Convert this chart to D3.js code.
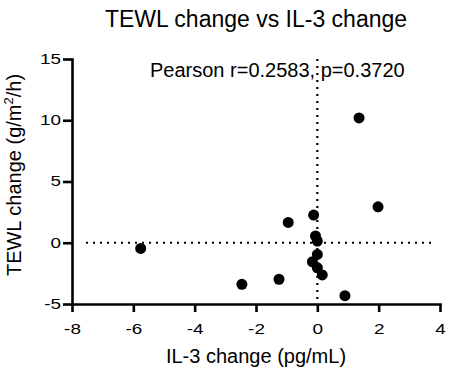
<!DOCTYPE html>
<html>
<head>
<meta charset="utf-8">
<script src="https://cdn.jsdelivr.net/npm/d3@7"></script>
<style>
  body { margin: 0; background: #fff; }
  text { font-family: "Liberation Sans", Arial, sans-serif; fill: #000; }
</style>
</head>
<body>
<svg id="chart"></svg>
<script>
// values
var il3Change  = [1.36, 1.98, -0.12, -0.95, -5.76, -0.06, 0.0, 0.0, -0.16, 0.0, 0.16, -1.25, -2.46, 0.9];
var tewlChange = [10.19, 2.93, 2.26, 1.66, -0.46, 0.55, 0.14, -0.95, -1.55, -2.04, -2.63, -2.98, -3.39, -4.32];
var xTicks = [-8, -6, -4, -2, 0, 2, 4];
var yTicks = [-5, 0, 5, 10, 15];

var points = il3Change.map((d, i) => ({x: d, y: tewlChange[i]}));

const W = 449, H = 369;
const svg = d3.select('#chart').attr('width', W).attr('height', H);

const xScale = d3.scaleLinear().domain([-8, 4]).range([72, 440]);
const yScale = d3.scaleLinear().domain([-5, 15]).range([304, 59]);

const tickStretch = 1.35;
const plainNum = d => String(d);   // hyphen, not unicode minus

// axes
const xAxis = d3.axisBottom(xScale).tickValues(xTicks).tickFormat(plainNum)
  .tickSize(8).tickSizeOuter(0).tickPadding(12);
const yAxis = d3.axisLeft(yScale).tickValues(yTicks).tickFormat(plainNum)
  .tickSize(9).tickSizeOuter(0);

const xg = svg.append('g').attr('transform', `translate(0, ${yScale(-5)})`).call(xAxis);
const yg = svg.append('g').attr('transform', `translate(${xScale(-8)}, 0)`).call(yAxis);

[xg, yg].forEach(g => {
  g.selectAll('path, line').attr('stroke', '#000').attr('stroke-width', 2.6);
  g.select('.domain').attr('stroke-linecap', 'square');
  g.selectAll('text').attr('font-size', '14px').attr('fill', '#000')
    .attr('font-family', '"Liberation Sans", Arial, sans-serif')
    .attr('transform', `scale(${tickStretch},1)`);
});
yg.selectAll('text').attr('x', -11 / tickStretch);

// dotted zero lines
svg.append('line')
  .attr('x1', xScale(-8) + 14).attr('x2', xScale(4) - 4)
  .attr('y1', yScale(0)).attr('y2', yScale(0))
  .attr('stroke', '#000').attr('stroke-width', 2.2).attr('stroke-dasharray', '2,5');
svg.append('line')
  .attr('x1', xScale(0)).attr('x2', xScale(0))
  .attr('y1', yScale(15)).attr('y2', yScale(-5))
  .attr('stroke', '#000').attr('stroke-width', 2.2).attr('stroke-dasharray', '2,5');

// points
svg.append('g').selectAll('circle')
  .data(points)
  .join('circle')
  .attr('cx', d => xScale(d.x))
  .attr('cy', d => yScale(d.y))
  .attr('r', 5.5)
  .attr('fill', '#000');

// title and labels
svg.append('text')
  .attr('x', 256).attr('y', 27)
  .attr('text-anchor', 'middle')
  .attr('font-size', '23px')
  .text('TEWL change vs IL-3 change');

svg.append('text')
  .attr('x', 150).attr('y', 77)
  .attr('font-size', '20px')
  .text('Pearson r=0.2583, p=0.3720');

svg.append('text')
  .attr('x', 256).attr('y', 363)
  .attr('text-anchor', 'middle')
  .attr('font-size', '20px')
  .text('IL-3 change (pg/mL)');

const yl = svg.append('text')
  .attr('transform', 'translate(21, 175) rotate(-90)')
  .attr('text-anchor', 'middle')
  .attr('font-size', '20px');
yl.append('tspan').text('TEWL change (g/m');
yl.append('tspan').attr('font-size', '13px').attr('dy', -8).text('2');
yl.append('tspan').attr('dy', 8).text('/h)');
</script>
</body>
</html>
